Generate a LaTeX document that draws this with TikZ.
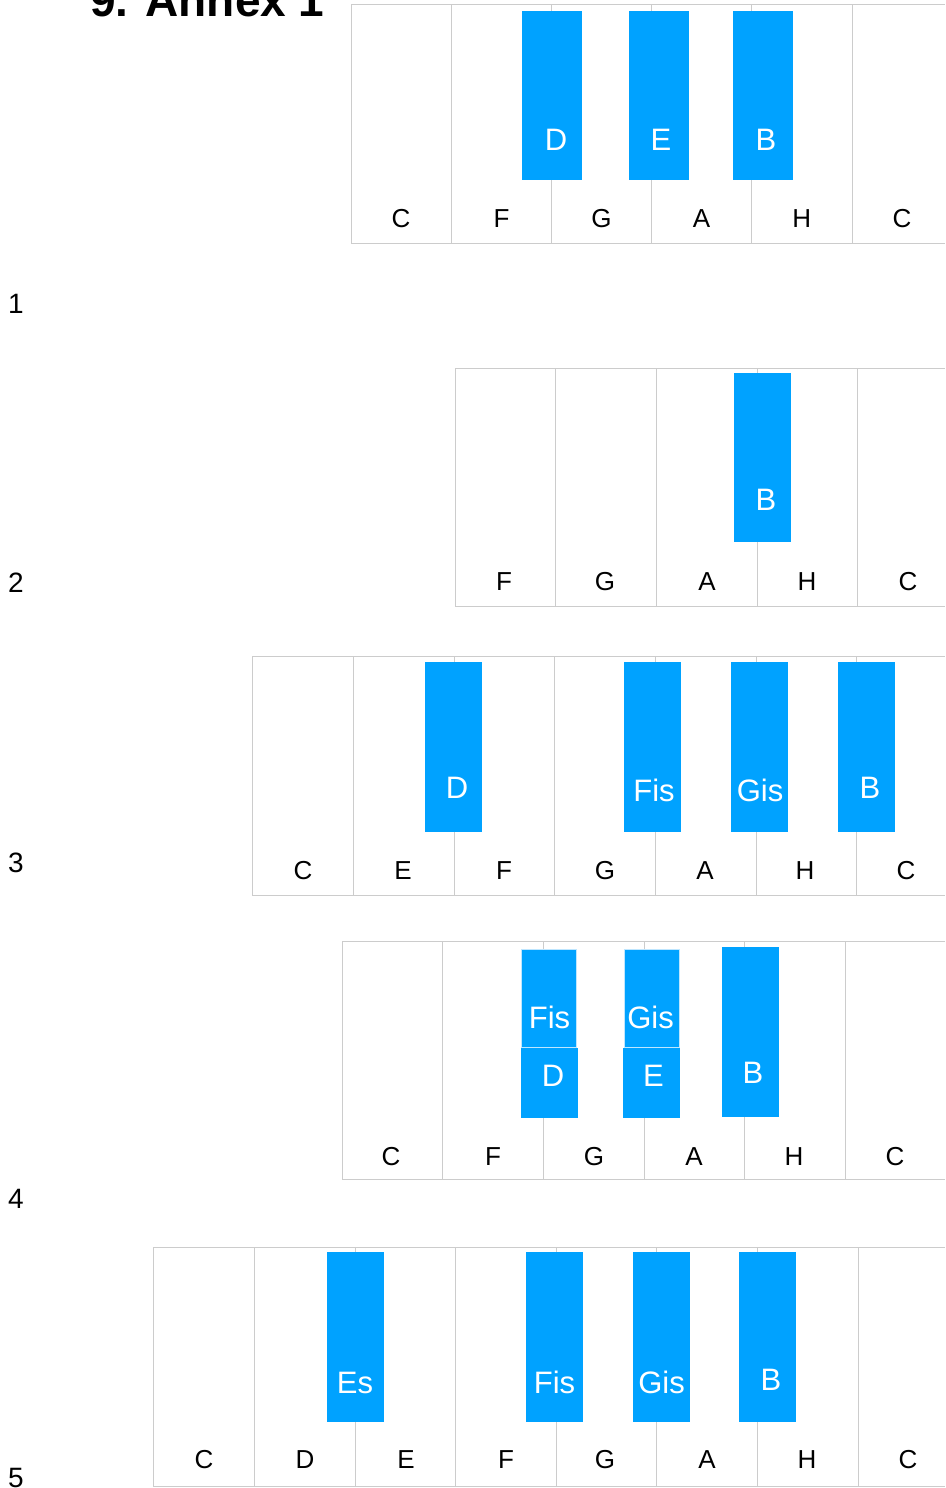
\documentclass[tikz,border=0pt]{standalone}
\usepackage{fontspec}
\setmainfont{Liberation Sans}
\definecolor{keyblue}{RGB}{0,162,255}
\definecolor{keygray}{RGB}{204,204,204}
\definecolor{keyedge}{RGB}{190,230,255}
\tikzset{
  gridline/.style={draw=keygray, line width=1pt},
  bluekey/.style={fill=keyblue},
  whitelabel/.style={anchor=base, inner sep=0pt, font=\fontsize{26}{30}\selectfont, text=black},
  bluelabel/.style={anchor=base, inner sep=0pt, font=\fontsize{31}{35}\selectfont, text=white},
  rownum/.style={anchor=base, inner sep=0pt, font=\fontsize{28}{32}\selectfont, text=black},
}
\begin{document}
\begin{tikzpicture}[x=1pt,y=-1pt]
\useasboundingbox (0,0) rectangle (945,1488);
% title
\node[anchor=base west, inner sep=0pt, font=\bfseries\fontsize{46}{50}\selectfont] (title) at (90,17) {9. Annex 1};
% row numbers
\node[rownum] (n1) at (16,313) {1};
\node[rownum] (n2) at (16,592) {2};
\node[rownum] (n3) at (16,872) {3};
\node[rownum] (n4) at (16,1208) {4};
\node[rownum] (n5) at (16,1487) {5};

% ---------- Row 1 ----------
\draw[gridline] (351,5) -- (945,5) (351,243) -- (945,243);
\foreach \x in {351,451.5,551.5,651.6,751.6,852} \draw[gridline] (\x,5) -- (\x,243);
\fill[bluekey] (522,11) rectangle (582,180);
\fill[bluekey] (629,11) rectangle (689,180);
\fill[bluekey] (733,11) rectangle (793,180);
\node[bluelabel] (r1d) at (556,150) {D};
\node[bluelabel] (r1e) at (661,150) {E};
\node[bluelabel] (r1b) at (766,150) {B};
\foreach \x/\t/\n in {401/C/a,501.5/F/b,601.5/G/c,701.6/A/d,801.8/H/e,902/C/f}
  \node[whitelabel] (r1\n) at (\x,227) {\t};

% ---------- Row 2 ----------
\draw[gridline] (455,368) -- (945,368) (455,606) -- (945,606);
\foreach \x in {455,555,656,757,857} \draw[gridline] (\x,368) -- (\x,606);
\fill[bluekey] (734,373) rectangle (791,542);
\node[bluelabel] (r2b) at (766,510) {B};
\foreach \x/\t/\n in {504/F/a,605/G/b,707/A/c,807/H/d,908/C/e}
  \node[whitelabel] (r2\n) at (\x,590) {\t};

% ---------- Row 3 ----------
\draw[gridline] (252,656) -- (945,656) (252,895) -- (945,895);
\foreach \x in {252,353,454,554,655,756,856} \draw[gridline] (\x,656) -- (\x,895);
\fill[bluekey] (425,662) rectangle (482,832);
\fill[bluekey] (624,662) rectangle (681,832);
\fill[bluekey] (731,662) rectangle (788,832);
\fill[bluekey] (838,662) rectangle (895,832);
\node[bluelabel] (r3d) at (457,798) {D};
\node[bluelabel] (r3fis) at (654,801) {Fis};
\node[bluelabel] (r3gis) at (760,801) {Gis};
\node[bluelabel] (r3b) at (870,798) {B};
\foreach \x/\t/\n in {303/C/a,403/E/b,504/F/c,605/G/d,705/A/e,805/H/f,906/C/g}
  \node[whitelabel] (r3\n) at (\x,879) {\t};

% ---------- Row 4 ----------
\draw[gridline] (342,941) -- (945,941) (342,1179) -- (945,1179);
\foreach \x in {342,442,543,644,744,845} \draw[gridline] (\x,941) -- (\x,1179);
\fill[bluekey] (521,1048) rectangle (578,1118);
\fill[bluekey] (623,1048) rectangle (680,1118);
\fill[bluekey, draw=keyedge, line width=0.8pt] (521,949) rectangle (576,1047);
\fill[bluekey, draw=keyedge, line width=0.8pt] (624,949) rectangle (679,1047);
\fill[bluekey] (722,947) rectangle (779,1117);
\node[bluelabel] (r4fis) at (549.5,1028) {Fis};
\node[bluelabel] (r4d) at (553,1086) {D};
\node[bluelabel] (r4gis) at (650.5,1028) {Gis};
\node[bluelabel] (r4e) at (653.5,1086) {E};
\node[bluelabel] (r4b) at (753,1083) {B};
\foreach \x/\t/\n in {391/C/a,493/F/b,594/G/c,694/A/d,794/H/e,895/C/f}
  \node[whitelabel] (r4\n) at (\x,1165) {\t};

% ---------- Row 5 ----------
\draw[gridline] (153,1247) -- (945,1247) (153,1486) -- (945,1486);
\foreach \x in {153,254,355,455,556,656,757,858} \draw[gridline] (\x,1247) -- (\x,1486);
\fill[bluekey] (327,1252) rectangle (384,1422);
\fill[bluekey] (526,1252) rectangle (583,1422);
\fill[bluekey] (633,1252) rectangle (690,1422);
\fill[bluekey] (739,1252) rectangle (796,1422);
\node[bluelabel] (r5es) at (355,1393) {Es};
\node[bluelabel] (r5fis) at (554.5,1393) {Fis};
\node[bluelabel] (r5gis) at (661.5,1393) {Gis};
\node[bluelabel] (r5b) at (771,1390) {B};
\foreach \x/\t/\n in {204/C/a,305/D/b,406/E/c,506/F/d,605/G/e,707/A/f,807/H/g,908/C/h}
  \node[whitelabel] (r5\n) at (\x,1468) {\t};
\end{tikzpicture}
\end{document}
